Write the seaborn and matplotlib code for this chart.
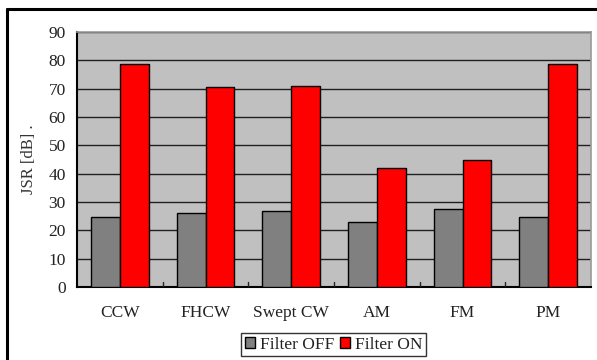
import matplotlib
matplotlib.use("Agg")
import matplotlib.pyplot as plt
import seaborn as sns
import pandas as pd
from matplotlib.lines import Line2D

categories = ["CCW", "FHCW", "Swept CW", "AM", "FM", "PM"]
filter_off = [24.8, 26.0, 26.9, 22.8, 27.4, 24.8]
filter_on = [78.6, 70.5, 70.8, 41.9, 44.7, 78.6]
series_names = ["Filter OFF", "Filter ON"]
y_ticks = [0, 10, 20, 30, 40, 50, 60, 70, 80, 90]

df = pd.DataFrame({
    "type": categories * 2,
    "series": [series_names[0]] * len(categories) + [series_names[1]] * len(categories),
    "JSR": filter_off + filter_on,
})

sns.set_theme(style="white")
plt.rcParams["font.family"] = ["Liberation Serif", "DejaVu Serif"]

fig = plt.figure(figsize=(5.97, 3.6), dpi=100)
ax = fig.add_axes([0.129, 0.203, 0.861, 0.708])
ax.set_facecolor("#C0C0C0")

sns.barplot(data=df, x="type", y="JSR", hue="series", order=categories,
            hue_order=series_names, palette=["#808080", "#FF0000"],
            width=0.67, gap=0, edgecolor="black", linewidth=1.0,
            saturation=1, ax=ax, legend=True, zorder=3)

ax.set_ylim(0, 90)
ax.set_xlim(-0.5, len(categories) - 0.5)
ax.set_yticks(y_ticks)
ax.yaxis.grid(True, color="#202020", linewidth=1.0, zorder=0)
ax.set_axisbelow(True)
ax.tick_params(axis="y", labelsize=12.5, length=0, pad=8)
ax.tick_params(axis="x", labelsize=12.5, length=0, pad=13)
for lbl in ax.get_yticklabels() + ax.get_xticklabels():
    lbl.set_color("#222222")

# small tick marks at group boundaries along the baseline
for b in range(1, len(categories)):
    ax.plot([b - 0.5, b - 0.5], [0, 1.8], color="#222222", linewidth=1.0, zorder=4)

ax.set_xlabel("")
ax.set_ylabel("JSR [dB] .", fontsize=12, color="#333333", labelpad=8)

for side in ["top", "right"]:
    ax.spines[side].set_color("#999999")
    ax.spines[side].set_linewidth(1.2)
for side in ["left", "bottom"]:
    ax.spines[side].set_color("black")
    ax.spines[side].set_linewidth(1.5)

handles, labels = ax.get_legend_handles_labels()
ax.legend_.remove()
leg = fig.legend(handles, labels, loc="center", bbox_to_anchor=(0.559, 0.042),
                 ncol=2, frameon=True, fancybox=False, fontsize=12.5,
                 handlelength=0.6, handleheight=0.6, handletextpad=0.3,
                 columnspacing=0.3, borderpad=0.2, borderaxespad=0)
leg.get_frame().set_edgecolor("black")
leg.get_frame().set_linewidth(1.0)
for t in leg.get_texts():
    t.set_color("#222222")

# outer chart frame (left and top edges)
fig.add_artist(Line2D([0.011, 0.011], [0.0, 0.976], color="black", linewidth=2.2,
                      transform=fig.transFigure))
fig.add_artist(Line2D([0.011, 1.0], [0.976, 0.976], color="black", linewidth=2.2,
                      transform=fig.transFigure))

fig.savefig("out.png", dpi=100)
